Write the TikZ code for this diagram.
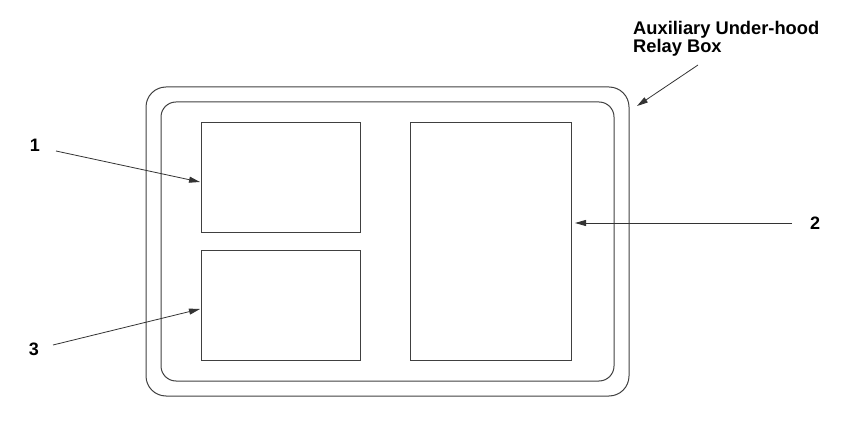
\documentclass[tikz,border=0pt]{standalone}
\usepackage{fontspec}
\setmainfont{Liberation Sans}
\usetikzlibrary{arrows.meta}
\begin{document}
\begin{tikzpicture}[x=1pt,y=-1pt,
  frame/.style={draw=black!75,line width=1pt},
  lbl/.style={font=\bfseries\fontsize{18}{18}\selectfont,inner sep=0pt},
  lead/.style={draw=black!80,line width=0.8pt,-{Triangle[length=11pt,width=6pt]}}]
\useasboundingbox (0,0) rectangle (865,430);
\draw[frame,rounded corners=20pt] (146,87) rectangle (629,396);
\draw[frame,rounded corners=15pt] (161,102) rectangle (614,381);
\node[frame,minimum width=159pt,minimum height=110pt,inner sep=0pt,anchor=north west] (b1) at (201,122) {};
\node[frame,minimum width=159pt,minimum height=110pt,inner sep=0pt,anchor=north west] (b3) at (201,250) {};
\node[frame,minimum width=161pt,minimum height=238pt,inner sep=0pt,anchor=north west] (b2) at (410,122) {};
\node[lbl] (l1) at (35,145.5) {1};
\node[lbl] (l3) at (34,349.5) {3};
\node[lbl] (l2) at (815,223) {2};
\node[lbl,align=left,anchor=base west,font=\bfseries\fontsize{18.3}{18}\selectfont] (lt) at (633,53) {Auxiliary Under-hood\\Relay Box};
\coordinate (s1) at (56,151);
\coordinate (s3) at (53,345);
\coordinate (s2) at (792,223);
\coordinate (st) at (698,65);
\coordinate (e1) at (200,182);
\coordinate (e3) at (200,309);
\coordinate (e2) at (575,223);
\coordinate (et) at (637,106);
\draw[lead] (s1) -- (e1);
\draw[lead] (s3) -- (e3);
\draw[lead] (s2) -- (e2);
\draw[lead] (st) -- (et);
\end{tikzpicture}
\end{document}
